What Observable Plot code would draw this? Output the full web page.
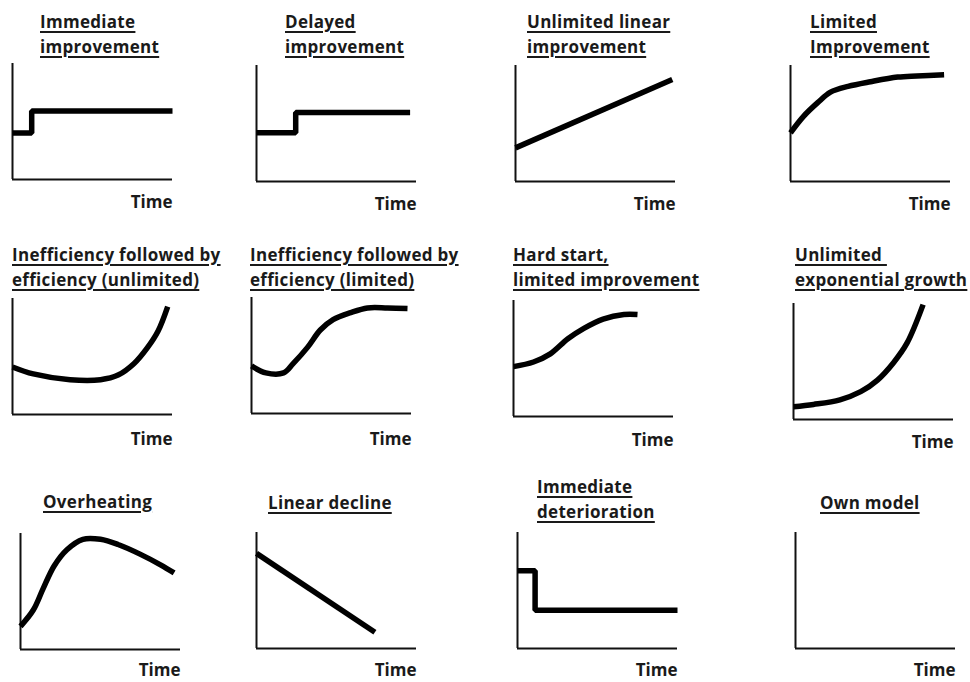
<!DOCTYPE html>
<html>
<head>
<meta charset="utf-8">
<script src="https://cdn.jsdelivr.net/npm/d3@7"></script>
<script src="https://cdn.jsdelivr.net/npm/@observablehq/plot@0.6"></script>
<style>
  html, body { margin: 0; padding: 0; background: #fff; }
  #wrap { position: relative; width: 970px; height: 682px; overflow: hidden; }
  .ttl { position: absolute; font-family: "Open Sans", Lato, sans-serif; font-weight: 700;
         font-size: 17px; letter-spacing: 0.3px; line-height: 25px; color: #1a1a1a; text-decoration: underline;
         text-decoration-thickness: 1.5px; text-underline-offset: 3px; white-space: nowrap; }
  .panel { position: absolute; }
</style>
</head>
<body>
<div id="wrap"></div>
<script>
// ---- data (time 0..10, performance 0..10) ----
const titles = [
  ["Immediate", "improvement"],
  ["Delayed", "improvement"],
  ["Unlimited linear", "improvement"],
  ["Limited", "Improvement"],
  ["Inefficiency followed by", "efficiency (unlimited)"],
  ["Inefficiency followed by", "efficiency (limited)"],
  ["Hard start,", "limited improvement"],
  ["Unlimited ", "exponential growth"],
  ["Overheating"],
  ["Linear decline"],
  ["Immediate", "deterioration"],
  ["Own model"]
];
const xLabel = "Time";

const immediateT = [0, 1.2, 1.2, 10];
const immediateV = [4.0, 4.0, 5.9, 5.9];
const delayedT = [0, 2.45, 2.45, 9.6];
const delayedV = [4.2, 4.2, 5.95, 5.95];
const linearT = [0, 9.8];
const linearV = [2.9, 8.8];
const limitedT = [0, 0.8, 1.7, 2.5, 3.6, 5, 6.7, 7.9, 9.6];
const limitedV = [4.2, 5.6, 6.8, 7.7, 8.2, 8.6, 9.0, 9.1, 9.2];
const ineffUnlT = [0, 1.3, 3.6, 5.5, 6.6, 7.6, 8.4, 9.1, 9.7];
const ineffUnlV = [4.1, 3.5, 3.0, 3.0, 3.4, 4.4, 5.7, 7.2, 9.3];
const ineffLimT = [0, 0.9, 2.0, 2.6, 3.5, 4.3, 5.1, 6.2, 7.25, 8.5, 9.75];
const ineffLimV = [4.1, 3.5, 3.5, 4.3, 5.7, 7.2, 8.1, 8.7, 9.1, 9.1, 9.05];
const hardStartT = [0, 1.25, 2.3, 3.4, 4.4, 5.6, 6.9, 7.75];
const hardStartV = [4.3, 4.7, 5.4, 6.7, 7.6, 8.4, 8.8, 8.8];
const expT = [0, 1.25, 2.9, 4.2, 5.25, 6.25, 7.1, 8.1];
const expV = [1.1, 1.3, 1.7, 2.4, 3.4, 4.9, 6.6, 9.9];
const overheatT = [0, 0.8, 1.4, 2.1, 2.9, 3.9, 5, 6.1, 7.5, 8.75, 9.6];
const overheatV = [2.0, 3.4, 5.2, 7.2, 8.6, 9.5, 9.5, 9.05, 8.2, 7.3, 6.6];
const declineT = [0, 7.4];
const declineV = [8.2, 1.4];
const deterT = [0, 1.1, 1.1, 10];
const deterV = [6.7, 6.7, 3.3, 3.3];
const ownT = [];
const ownV = [];

const seriesT = [immediateT, delayedT, linearT, limitedT, ineffUnlT, ineffLimT, hardStartT, expT, overheatT, declineT, deterT, ownT];
const seriesV = [immediateV, delayedV, linearV, limitedV, ineffUnlV, ineffLimV, hardStartV, expV, overheatV, declineV, deterV, ownV];
const curves = ["linear", "linear", "linear", "catmull-rom", "catmull-rom", "catmull-rom", "catmull-rom", "catmull-rom", "catmull-rom", "linear", "linear", "linear"];

// ---- layout (pixel placement of each small chart) ----
const layout = [
  {ox: 12,  oy: 63,  tx: 40,  ty: 9,   td: 23},
  {ox: 256, oy: 65,  tx: 285, ty: 9,   td: 23},
  {ox: 515, oy: 65,  tx: 527, ty: 9,   td: 23},
  {ox: 790, oy: 65,  tx: 810, ty: 9,   td: 23},
  {ox: 12,  oy: 298, tx: 12,  ty: 242, td: 25},
  {ox: 251, oy: 297, tx: 250, ty: 242, td: 26},
  {ox: 513, oy: 300, tx: 513, ty: 242, td: 24},
  {ox: 793, oy: 303, tx: 795, ty: 242, td: 23},
  {ox: 20,  oy: 533, tx: 43,  ty: 489, td: 21},
  {ox: 256, oy: 532, tx: 268, ty: 490, td: 22},
  {ox: 517, oy: 532, tx: 537, ty: 474, td: 22},
  {ox: 795, oy: 532, tx: 820, ty: 490, td: 22}
];
const W = 160, H = 116, ml = 4, mr = 6, mt = 4, mb = 36;

const wrap = document.getElementById("wrap");
titles.forEach((lines, i) => {
  const L = layout[i];
  const t = document.createElement("div");
  t.className = "ttl";
  t.style.left = L.tx + "px";
  t.style.top = L.ty + "px";
  t.innerHTML = lines.map(s => "<span>" + s.replace(/ $/, "&nbsp;") + "</span>").join("<br>");
  wrap.appendChild(t);

  const data = seriesT[i].map((tt, k) => ({t: tt, v: seriesV[i][k]}));
  const chart = Plot.plot({
    width: W + ml + mr,
    height: H + mt + mb,
    marginLeft: ml, marginRight: mr, marginTop: mt, marginBottom: mb,
    style: {fontFamily: "'Open Sans', Lato, sans-serif", background: "transparent", overflow: "visible"},
    x: {domain: [0, 10], axis: null},
    y: {domain: [0, 10], axis: null},
    marks: [
      Plot.ruleX([0], {stroke: "#111", strokeWidth: 2}),
      Plot.ruleY([0], {stroke: "#111", strokeWidth: 2}),
      Plot.line(data, {x: "t", y: "v", stroke: "#000", strokeWidth: 5.5, curve: curves[i], strokeLinecap: "butt", strokeLinejoin: "miter"}),
      Plot.text([xLabel], {x: 10, y: 0, text: d => d, dy: L.td, textAnchor: "end", fontWeight: "bold", fontSize: 17, fill: "#1a1a1a"})
    ]
  });
  chart.classList.add("panel");
  chart.style.left = (L.ox - ml) + "px";
  chart.style.top = (L.oy - mt) + "px";
  wrap.appendChild(chart);
});
</script>
</body>
</html>
